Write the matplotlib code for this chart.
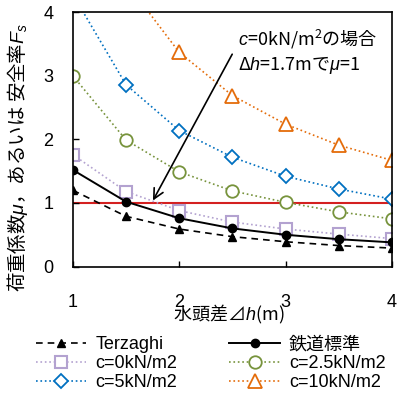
import matplotlib
matplotlib.use("Agg")
import matplotlib.pyplot as plt

plt.rcParams['font.family'] = ['Liberation Sans', 'Noto Sans CJK JP', 'DejaVu Sans']
plt.rcParams['mathtext.fontset'] = 'custom'
plt.rcParams['mathtext.rm'] = 'Noto Sans CJK JP'
plt.rcParams['mathtext.it'] = 'Liberation Sans:italic'

h = [1, 1.5, 2, 2.5, 3, 3.5, 4]
terzaghi = [1.20, 0.79, 0.59, 0.47, 0.39, 0.33, 0.29]
tetsudo = [1.52, 1.02, 0.76, 0.60, 0.50, 0.43, 0.38]
c0 = [1.76, 1.18, 0.88, 0.70, 0.59, 0.51, 0.44]
c25 = [3.00, 1.99, 1.49, 1.19, 1.01, 0.86, 0.75]
c5 = [4.28, 2.86, 2.14, 1.72, 1.42, 1.22, 1.06]
c10 = [6.70, 4.47, 3.37, 2.69, 2.24, 1.91, 1.67]

xticks = [1, 2, 3, 4]
yticks = [0, 1, 2, 3, 4]

fig = plt.figure(figsize=(4.05, 3.99), dpi=100)
ax = fig.add_axes([0.180, 0.332, 0.788, 0.637])

fs = 13
l_terz, = ax.plot(h, terzaghi, ls=(0, (4, 3)), color='black', lw=1.2, marker='^',
                  ms=6, mfc='black', mec='black', label='Terzaghi')
l_c0, = ax.plot(h, c0, ls=':', color='#B3A2D0', lw=1.2, marker='s', ms=9,
                mfc='white', mec='#B3A2D0', mew=1.5, label='c=0kN/m2')
l_c5, = ax.plot(h, c5, ls=':', color='#0070C0', lw=1.2, marker='D', ms=7,
                mfc='white', mec='#0070C0', mew=1.3, label='c=5kN/m2')
l_tet, = ax.plot(h, tetsudo, ls='-', color='black', lw=1.4, marker='o', ms=6,
                 mfc='black', mec='black', label='鉄道標準')
l_c25, = ax.plot(h, c25, ls=':', color='#77933C', lw=1.2, marker='o', ms=9,
                 mfc='white', mec='#77933C', mew=1.3, label='c=2.5kN/m2')
l_c10, = ax.plot(h, c10, ls=':', color='#E46C0A', lw=1.2, marker='^', ms=10,
                 mfc='white', mec='#E46C0A', mew=1.3, label='c=10kN/m2')

ax.plot([1, 4], [1, 1], color='#D42020', lw=1.5, zorder=1.5)

ax.set_xlim(1, 4)
ax.set_ylim(0, 4)
ax.set_xticks(xticks)
ax.set_yticks(yticks)
ax.tick_params(direction='in', length=4, labelsize=fs, width=1)
ax.tick_params(axis='x', pad=20)
ax.tick_params(axis='y', pad=14)
for s in ax.spines.values():
    s.set_linewidth(1.2)

ax.set_xlabel('水頭差$\\mathit{⊿h}$(m)', fontsize=fs, family='Noto Sans CJK JP')
ax.xaxis.set_label_coords(0.487, -0.145)
ax.set_ylabel('荷重係数$\\mu$，あるいは 安全率$F_s$', fontsize=14, family='Noto Sans CJK JP')
ax.yaxis.set_label_coords(-0.135, 0.43)

ax.annotate('', xy=(1.74, 1.0), xytext=(2.51, 3.38),
            arrowprops=dict(arrowstyle='->', color='black', lw=1.2, mutation_scale=18))
ax.text(2.55, 3.58, '$c$=0kN/m$^2$の場合', fontsize=13, family='Noto Sans CJK JP', va='center')
ax.text(2.55, 3.17, 'Δ$h$=1.7mで$\\mu$=1', fontsize=13, family='Noto Sans CJK JP', va='center')

fig.legend(handles=[l_terz, l_c0, l_c5, l_tet, l_c25, l_c10], ncol=2,
           loc='upper left', bbox_to_anchor=(0.07, 0.175), frameon=False,
           fontsize=fs, handlelength=2.8, handletextpad=0.5, columnspacing=2.9,
           labelspacing=0.1, numpoints=1, borderaxespad=0)

fig.savefig('out.png', dpi=100)
